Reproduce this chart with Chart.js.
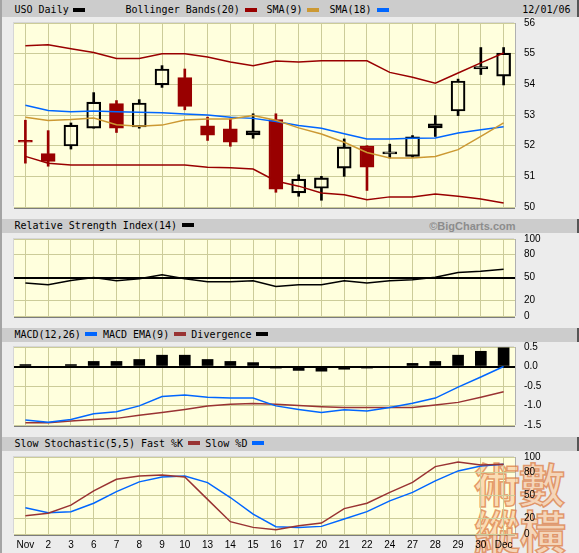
<!DOCTYPE html>
<html>
<head>
<meta charset="utf-8">
<script src="https://cdn.jsdelivr.net/npm/chart.js@4.4.1/dist/chart.umd.min.js"></script>
<style>
body{margin:0;width:579px;height:553px;background:#ececec;position:relative;overflow:hidden;font-family:"DejaVu Sans Mono",monospace;font-size:10px;color:#000}
.edge{position:absolute;left:0;top:0;width:2px;height:553px;background:#a4a4a4}
.band{position:absolute;left:2px;width:575px;background:#cccccc;border-right:2px solid #555}
.t{position:absolute;white-space:pre;line-height:12px}
.sw{position:absolute;width:12px;height:4px}
.isw{display:inline-block;width:12px;height:4px;margin:0 5.5px 0 4.7px;vertical-align:2px}
.plot{position:absolute;left:14px;width:501px;background:#ffffdd;box-shadow:0 2px 0 #7c7c7c,1px 0 0 #b0b0b0,-1px -1px 0 #d6d6d6}
.box{position:absolute;left:14px;width:565px}
.wm{position:absolute;font-family:"Noto Sans CJK TC",sans-serif;font-weight:700;font-size:46px;line-height:46px;color:rgba(250,200,155,0.65);-webkit-text-stroke:1.5px rgba(215,110,50,0.65)}
</style>
</head>
<body>
<div class="edge"></div>

<div class="band" style="top:0;height:17px"></div>
<div class="t" style="left:14.5px;top:4px">USO Daily</div>
<div class="sw" style="left:73px;top:7.5px;background:#000"></div>
<div class="t" style="left:125.5px;top:4px">Bollinger Bands(20)</div>
<div class="sw" style="left:244.5px;top:7.5px;background:#990000"></div>
<div class="t" style="left:266.5px;top:4px">SMA(9)</div>
<div class="sw" style="left:307px;top:7.5px;background:#cc9933"></div>
<div class="t" style="left:329.5px;top:4px">SMA(18)</div>
<div class="sw" style="left:376.5px;top:7.5px;background:#0066ff"></div>
<div class="t" style="right:8.5px;top:4px">12/01/06</div>

<div class="band" style="top:218.5px;height:14px"></div>
<div class="t" style="left:14.5px;top:219.5px">Relative Strength Index(14)<span class="isw" style="background:#000"></span></div>
<div class="t" style="right:63.5px;top:219.5px;font-family:'Liberation Sans',sans-serif;font-weight:bold;font-size:11px;color:#8c8c8c">©BigCharts.com</div>

<div class="band" style="top:327.5px;height:14.5px"></div>
<div class="t" style="left:14.5px;top:328.5px">MACD(12,26)<span class="isw" style="background:#0066ff"></span>MACD EMA(9)<span class="isw" style="background:#993333"></span>Divergence<span class="isw" style="background:#000"></span></div>

<div class="band" style="top:436.5px;height:14px"></div>
<div class="t" style="left:14.5px;top:437.5px">Slow Stochastic(5,5) Fast %K<span class="isw" style="background:#993333"></span>Slow %D<span class="isw" style="background:#0066ff"></span></div>

<div class="plot" style="top:23px;height:184px"></div>
<div class="plot" style="top:239px;height:77px"></div>
<div class="plot" style="top:347px;height:78px"></div>
<div class="plot" style="top:457px;height:77px"></div>

<div class="wm" style="left:474px;top:459px">術</div>
<div class="wm" style="left:519px;top:459px">數</div>
<div class="wm" style="left:474px;top:506px">縱</div>
<div class="wm" style="left:520px;top:506px">橫</div>

<div class="box" style="top:15px;height:200px"><canvas id="priceChart"></canvas></div>
<div class="box" style="top:231px;height:93px"><canvas id="rsiChart"></canvas></div>
<div class="box" style="top:339px;height:94px"><canvas id="macdChart"></canvas></div>
<div class="box" style="top:449px;height:104px"><canvas id="stochChart"></canvas></div>

<script>
const days = ['Nov', '2', '3', '6', '7', '8', '9', '10', '13', '14', '15', '16', '17', '20', '21', '22', '24', '27', '28', '29', '30', 'Dec'];

const openPx  = [52.13, 51.74, 51.99, 52.57, 53.37, 52.61, 53.98, 54.22, 52.65, 52.55, 52.35, 52.85, 50.46, 50.61, 51.27, 51.99, 51.73, 51.65, 52.58, 53.13, 54.50, 54.27];
const closePx = [52.11, 51.49, 52.67, 53.42, 52.57, 53.39, 54.50, 53.28, 52.34, 52.11, 52.48, 50.58, 50.91, 50.95, 51.96, 51.30, 51.80, 52.29, 52.71, 54.11, 54.58, 55.02];
const highPx  = [52.83, 52.49, 52.74, 53.73, 53.47, 53.50, 54.61, 54.50, 52.93, 52.87, 53.04, 53.04, 51.05, 51.00, 52.22, 52.00, 52.05, 52.33, 52.98, 54.17, 55.20, 55.20];
const lowPx   = [51.43, 51.33, 51.89, 52.57, 52.43, 52.57, 53.90, 53.17, 52.17, 51.98, 52.24, 50.48, 50.35, 50.22, 51.00, 50.54, 51.60, 51.62, 52.30, 52.98, 54.32, 53.98];

const bbUpper = [55.26, 55.29, 55.16, 55.04, 54.84, 54.84, 55.00, 55.00, 54.89, 54.73, 54.61, 54.76, 54.73, 54.77, 54.77, 54.77, 54.39, 54.23, 54.04, 54.37, 54.70, 55.02];
const bbLower = [51.65, 51.43, 51.37, 51.37, 51.37, 51.37, 51.37, 51.37, 51.30, 51.28, 51.24, 50.85, 50.68, 50.46, 50.40, 50.24, 50.33, 50.33, 50.42, 50.35, 50.26, 50.13];
const sma9    = [52.93, 52.82, 52.85, 52.90, 52.68, 52.63, 52.67, 52.84, 52.87, 52.87, 52.98, 52.83, 52.58, 52.38, 52.11, 51.78, 51.60, 51.60, 51.65, 51.87, 52.30, 52.74];
const sma18   = [53.32, 53.15, 53.11, 53.13, 53.11, 53.09, 53.07, 53.03, 53.00, 52.93, 52.89, 52.79, 52.66, 52.57, 52.39, 52.22, 52.22, 52.24, 52.25, 52.41, 52.52, 52.62];

const rsi = [42.7, 40.5, 46.0, 50.0, 45.8, 48.5, 53.7, 48.5, 44.5, 44.5, 45.8, 38.3, 40.5, 40.5, 45.8, 43.0, 45.8, 47.0, 50.2, 56.4, 58.0, 60.8];

const macdLine   = [-1.37, -1.43, -1.36, -1.21, -1.16, -1.01, -0.77, -0.73, -0.79, -0.81, -0.81, -1.01, -1.10, -1.18, -1.11, -1.14, -1.05, -0.94, -0.81, -0.53, -0.27, 0.00];
const macdSignal = [-1.44, -1.44, -1.40, -1.36, -1.33, -1.25, -1.18, -1.10, -1.01, -0.97, -0.95, -0.97, -1.00, -1.03, -1.05, -1.05, -1.05, -1.05, -0.99, -0.92, -0.79, -0.65];
const macdHist   = [0.05, 0, 0.05, 0.13, 0.13, 0.18, 0.29, 0.29, 0.18, 0.13, 0.10, -0.04, -0.10, -0.12, -0.07, -0.04, 0, 0.08, 0.13, 0.29, 0.39, 0.48];

const stochK = [23.7, 27.0, 37.5, 56.0, 71.0, 75.4, 76.7, 74.0, 45.0, 16.0, 8.6, 5.6, 10.8, 14.2, 33.0, 40.0, 54.0, 67.0, 87.5, 93.5, 89.7, 90.5];
const stochD = [34.0, 27.6, 29.0, 40.0, 55.0, 67.7, 74.0, 75.4, 66.8, 47.4, 25.9, 9.5, 8.6, 9.9, 19.4, 29.0, 43.0, 54.0, 69.0, 81.9, 88.4, 90.5];

const oscTicks = [0, 20, 50, 80, 100];

const gridColor = '#cccc99';
const tickFont = {family: 'Liberation Sans', size: 10};
const RED = '#990000';

const isDown = openPx.map((o, i) => closePx[i] < o);
const edgeColor = isDown.map(d => d ? RED : '#000000');
const bodyColor = isDown.map(d => d ? RED : 'rgba(0,0,0,0)');

function line(data, color) {
    return {type: 'line', data: data, borderColor: color, borderWidth: 1.5, pointRadius: 0, tension: 0, fill: false, order: 0};
}

function options(yScale, showX) {
    return {
        responsive: true,
        maintainAspectRatio: false,
        animation: false,
        layout: {padding: {top: 8, bottom: showX ? 0 : 8, left: 0, right: 0}},
        plugins: {legend: {display: false}, tooltip: {enabled: false}},
        scales: {
            x: {
                offset: true,
                grid: {offset: false, color: gridColor, drawTicks: false},
                border: {display: false},
                ticks: {display: showX, autoSkip: false, maxRotation: 0, color: '#000', font: tickFont, padding: 5},
                afterFit: s => { s.height = showX ? 19 : 0; s.paddingLeft = 0; s.paddingRight = 0; }
            },
            y: Object.assign({
                position: 'right',
                border: {display: false},
                afterFit: s => { s.width = 64; s.paddingTop = 0; s.paddingBottom = 0; }
            }, yScale)
        }
    };
}

function yTicks(extra) {
    return Object.assign({color: '#000', font: tickFont, padding: 9}, extra || {});
}

// price panel
new Chart(document.getElementById('priceChart'), {
    type: 'bar',
    data: {
        labels: days,
        datasets: [
            line(bbUpper, RED),
            line(bbLower, RED),
            line(sma9, '#cc9933'),
            line(sma18, '#0066ff'),
            {
                data: openPx.map((o, i) => [Math.max(o, closePx[i]), highPx[i]]),
                backgroundColor: edgeColor, barThickness: 2, grouped: false, order: 2
            },
            {
                data: openPx.map((o, i) => [lowPx[i], Math.min(o, closePx[i])]),
                backgroundColor: edgeColor, barThickness: 2, grouped: false, order: 2
            },
            {
                data: openPx.map((o, i) => [o, closePx[i]]),
                backgroundColor: bodyColor, borderColor: edgeColor, borderWidth: 1.5,
                borderSkipped: false, barThickness: 14, minBarLength: 2, grouped: false, order: 1
            }
        ]
    },
    options: options({
        min: 50, max: 56,
        grid: {color: gridColor, drawTicks: false},
        ticks: yTicks({stepSize: 1})
    }, false)
});

// RSI panel
new Chart(document.getElementById('rsiChart'), {
    type: 'line',
    data: {
        labels: days,
        datasets: [line(rsi, '#000000')]
    },
    options: options({
        min: 0, max: 100,
        afterBuildTicks: s => { s.ticks = oscTicks.map(v => ({value: v})); },
        grid: {
            drawTicks: false,
            color: c => (c.tick && c.tick.value === 50) ? '#000' : gridColor,
            lineWidth: c => (c.tick && c.tick.value === 50) ? 2 : 1
        },
        ticks: yTicks()
    }, false)
});

// MACD panel
new Chart(document.getElementById('macdChart'), {
    type: 'bar',
    data: {
        labels: days,
        datasets: [
            line(macdLine, '#0066ff'),
            line(macdSignal, '#993333'),
            {data: macdHist, backgroundColor: '#000', barThickness: 11, grouped: false, order: 1}
        ]
    },
    options: options({
        min: -1.5, max: 0.5,
        grid: {
            drawTicks: false,
            color: c => (c.tick && c.tick.value === 0) ? '#000' : gridColor,
            lineWidth: c => (c.tick && c.tick.value === 0) ? 2 : 1
        },
        ticks: yTicks({stepSize: 0.5, callback: v => v.toFixed(1)})
    }, false)
});

// stochastic panel
new Chart(document.getElementById('stochChart'), {
    type: 'line',
    data: {
        labels: days,
        datasets: [
            line(stochK, '#993333'),
            line(stochD, '#0066ff')
        ]
    },
    options: options({
        min: 0, max: 100,
        afterBuildTicks: s => { s.ticks = oscTicks.map(v => ({value: v})); },
        grid: {color: gridColor, drawTicks: false},
        ticks: yTicks()
    }, true)
});
</script>
</body>
</html>
